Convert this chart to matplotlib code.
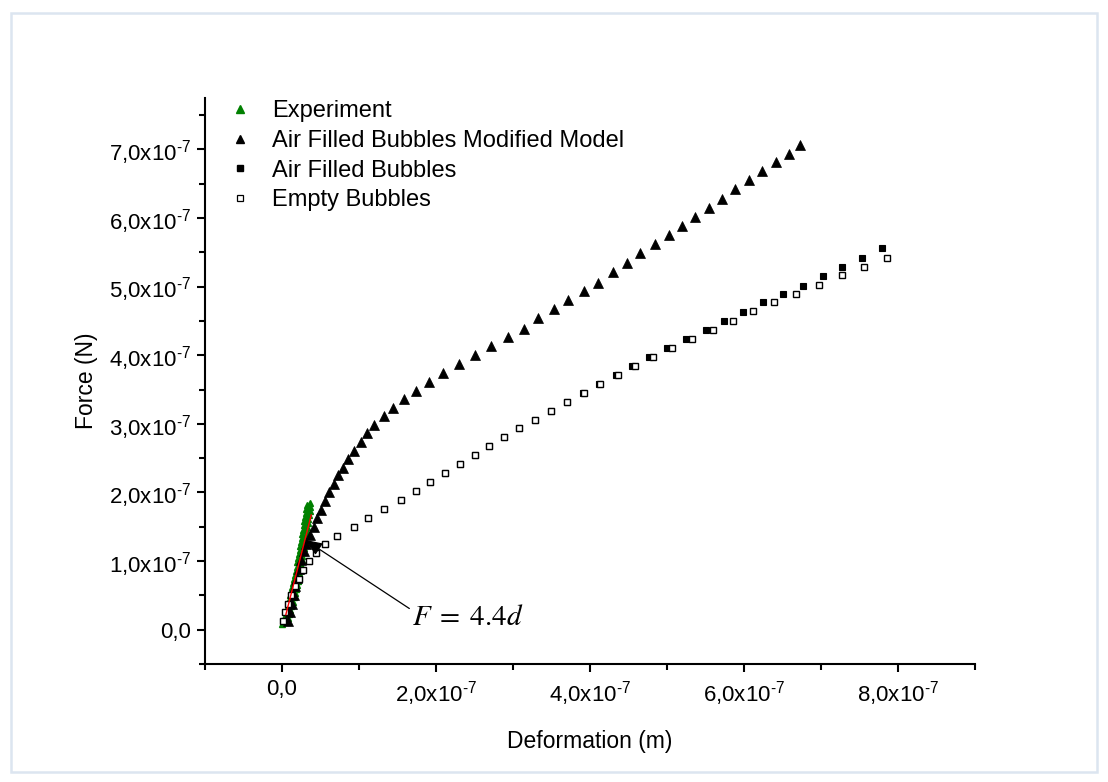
import numpy as np
import matplotlib
matplotlib.use("Agg")
import matplotlib.pyplot as plt
from matplotlib.lines import Line2D
from matplotlib.patches import Rectangle
from matplotlib.ticker import MultipleLocator, FixedLocator, FixedFormatter

plt.rcParams['font.family'] = ['Liberation Sans', 'DejaVu Sans']
plt.rcParams['mathtext.fontset'] = 'custom'
plt.rcParams['mathtext.rm'] = 'Liberation Sans'
plt.rcParams['mathtext.it'] = 'Liberation Sans:italic'
plt.rcParams['mathtext.bf'] = 'Liberation Sans:bold'

SCALE = 1e-7  # all values below are in units of 1e-7

# ---------------- data (x = deformation, y = force), units of 1e-7 ----------
# Experiment (two passes of the measured curve)
exp_d_a = [0.005, 0.020, 0.035, 0.050, 0.065, 0.080, 0.095, 0.110, 0.122, 0.134,
           0.146, 0.157, 0.168, 0.179, 0.189, 0.200, 0.210, 0.220, 0.230, 0.240,
           0.249, 0.258, 0.266, 0.274, 0.282, 0.290, 0.298, 0.306, 0.314, 0.322]
exp_F_a = [0.08, 0.14, 0.20, 0.26, 0.32, 0.38, 0.44, 0.50, 0.56, 0.62,
           0.68, 0.74, 0.80, 0.86, 0.92, 0.98, 1.04, 1.10, 1.16, 1.22,
           1.28, 1.34, 1.40, 1.46, 1.52, 1.58, 1.64, 1.70, 1.76, 1.82]
exp_d_b = [0.063, 0.077, 0.092, 0.107, 0.122, 0.137, 0.152, 0.166, 0.178, 0.190,
           0.202, 0.213, 0.224, 0.234, 0.245, 0.255, 0.265, 0.275, 0.285, 0.295,
           0.304, 0.312, 0.320, 0.328, 0.336, 0.344, 0.352, 0.360, 0.364, 0.360]
exp_F_b = [0.11, 0.17, 0.23, 0.29, 0.35, 0.41, 0.47, 0.53, 0.59, 0.65,
           0.71, 0.77, 0.83, 0.89, 0.95, 1.01, 1.07, 1.13, 1.19, 1.25,
           1.31, 1.37, 1.43, 1.49, 1.55, 1.61, 1.67, 1.73, 1.79, 1.85]

# Air Filled Bubbles Modified Model
mod_d = [0.08, 0.10, 0.13, 0.15, 0.17, 0.20, 0.22, 0.25, 0.28, 0.31,
         0.37, 0.42, 0.46, 0.50, 0.56, 0.61, 0.67, 0.73, 0.79, 0.86,
         0.93, 1.02, 1.10, 1.20, 1.32, 1.44, 1.58, 1.74, 1.91, 2.09,
         2.30, 2.51, 2.72, 2.93, 3.14, 3.33, 3.53, 3.72, 3.92, 4.10,
         4.30, 4.48, 4.65, 4.84, 5.02, 5.19, 5.37, 5.54, 5.71, 5.88,
         6.07, 6.24, 6.41, 6.58, 6.73]
mod_F = [0.13, 0.26, 0.38, 0.51, 0.63, 0.76, 0.89, 1.01, 1.14, 1.25,
         1.38, 1.50, 1.63, 1.75, 1.88, 2.00, 2.13, 2.25, 2.36, 2.49,
         2.61, 2.74, 2.87, 2.99, 3.12, 3.23, 3.36, 3.48, 3.61, 3.74,
         3.87, 4.00, 4.13, 4.26, 4.39, 4.54, 4.67, 4.80, 4.93, 5.06,
         5.21, 5.34, 5.49, 5.62, 5.75, 5.88, 6.01, 6.14, 6.28, 6.42,
         6.55, 6.68, 6.81, 6.94, 7.07]

# Air Filled Bubbles
air_d = [0.01, 0.04, 0.08, 0.12, 0.17, 0.22, 0.27, 0.35, 0.44, 0.56,
         0.72, 0.93, 1.12, 1.33, 1.54, 1.74, 1.92, 2.12, 2.31, 2.50,
         2.69, 2.88, 3.08, 3.28, 3.49, 3.70, 3.91, 4.12, 4.34, 4.55,
         4.77, 5.00, 5.25, 5.50, 5.74, 5.99, 6.25, 6.50, 6.76, 7.02,
         7.27, 7.53, 7.79]
air_F = [0.13, 0.26, 0.38, 0.50, 0.63, 0.74, 0.87, 1.00, 1.12, 1.25,
         1.37, 1.50, 1.63, 1.76, 1.89, 2.02, 2.15, 2.29, 2.42, 2.55,
         2.68, 2.81, 2.94, 3.06, 3.19, 3.32, 3.45, 3.58, 3.71, 3.84,
         3.97, 4.11, 4.24, 4.37, 4.50, 4.63, 4.77, 4.90, 5.01, 5.15,
         5.28, 5.42, 5.56]

# Empty Bubbles
emp_d = [0.01, 0.04, 0.08, 0.12, 0.17, 0.22, 0.27, 0.35, 0.44, 0.56,
         0.72, 0.93, 1.12, 1.33, 1.54, 1.74, 1.92, 2.12, 2.31, 2.50,
         2.69, 2.88, 3.08, 3.28, 3.49, 3.70, 3.92, 4.13, 4.37, 4.59,
         4.82, 5.06, 5.33, 5.60, 5.86, 6.12, 6.39, 6.68, 6.97, 7.27,
         7.56, 7.86]
emp_F = [0.13, 0.26, 0.38, 0.50, 0.63, 0.74, 0.87, 1.00, 1.12, 1.25,
         1.37, 1.50, 1.63, 1.76, 1.89, 2.02, 2.15, 2.29, 2.42, 2.55,
         2.68, 2.81, 2.94, 3.06, 3.19, 3.32, 3.45, 3.58, 3.71, 3.84,
         3.97, 4.11, 4.24, 4.37, 4.50, 4.64, 4.77, 4.89, 5.02, 5.17,
         5.28, 5.42]

# Linear fit F = 4.4 d
fit_slope = 4.4
fit_d = [0.05, 0.38]

series_labels = ['Experiment', 'Air Filled Bubbles Modified Model',
                 'Air Filled Bubbles', 'Empty Bubbles']
annotation_text = r'$F\;=\;4.4d$'
annot_xy = (0.30, 1.31)
annot_text_xy = (1.69, 0.18)

xlabel = 'Deformation (m)'
ylabel = 'Force (N)'
SUP = r'x10$^{\text{-7}}$'
xticks = [0, 2, 4, 6, 8]
xtick_labels = ['0,0', '2,0' + SUP, '4,0' + SUP, '6,0' + SUP, '8,0' + SUP]
yticks = [0, 1, 2, 3, 4, 5, 6, 7]
ytick_labels = ['0,0', '1,0' + SUP, '2,0' + SUP, '3,0' + SUP, '4,0' + SUP,
                '5,0' + SUP, '6,0' + SUP, '7,0' + SUP]

# ---------------- figure ---------------------------------------------------
W, H = 1108, 782
fig = plt.figure(figsize=(W / 100, H / 100), dpi=100)
fig.patch.set_facecolor('white')
fig.patches.append(Rectangle((11 / W, 1 - 772 / H), (1097 - 11) / W, (772 - 13) / H,
                             transform=fig.transFigure, fill=False,
                             edgecolor='#dce5f0', linewidth=1.8, zorder=0))

ax = fig.add_axes([205 / W, 1 - 664 / H, (975 - 205) / W, (664 - 98) / H])

def s(v):
    return np.asarray(v, dtype=float) * SCALE

GREEN = '#008000'
ax.plot(s(exp_d_a), s(exp_F_a), linestyle='none', marker='^', ms=4.5,
        color=GREEN, mec=GREEN, zorder=2)
ax.plot(s(exp_d_b), s(exp_F_b), linestyle='none', marker='^', ms=4.5,
        color=GREEN, mec=GREEN, zorder=2)
ax.plot(s(mod_d), s(mod_F), linestyle='none', marker='^', ms=7.5,
        color='black', mec='black', mew=0.5, zorder=3)
ax.plot(s(air_d), s(air_F), linestyle='none', marker='s', ms=5,
        color='black', mec='black', mew=0.8, zorder=4)
ax.plot(s(emp_d), s(emp_F), linestyle='none', marker='s', ms=5,
        mfc='white', mec='black', mew=1.0, zorder=5)
fd = np.asarray(fit_d, dtype=float)
ax.plot(s(fd), s(fit_slope * fd), color='red', lw=1.0, zorder=6)

ax.annotate(annotation_text, xy=s(annot_xy), xytext=s(annot_text_xy),
            fontsize=21, math_fontfamily='stix', ha='left', va='center',
            arrowprops=dict(arrowstyle='-|>,head_length=0.5,head_width=0.2',
                            color='black', lw=0.9, shrinkA=0, shrinkB=0,
                            relpos=(0.0, 0.75)), zorder=7)

ax.set_xlim(-1 * SCALE, 9 * SCALE)
ax.set_ylim(-0.5 * SCALE, 7.75 * SCALE)

ax.xaxis.set_major_locator(FixedLocator(s(xticks)))
ax.xaxis.set_major_formatter(FixedFormatter(xtick_labels))
ax.xaxis.set_minor_locator(MultipleLocator(1 * SCALE))
ax.yaxis.set_major_locator(FixedLocator(s(yticks)))
ax.yaxis.set_major_formatter(FixedFormatter(ytick_labels))
ax.yaxis.set_minor_locator(MultipleLocator(0.5 * SCALE))

for sp in ['top', 'right']:
    ax.spines[sp].set_visible(False)
for sp in ['left', 'bottom']:
    ax.spines[sp].set_linewidth(1.5)

ax.tick_params(which='major', direction='out', length=6, width=1.5,
               labelsize=16)
ax.tick_params(axis='y', which='major', pad=4)
ax.tick_params(axis='x', which='major', pad=5)
ax.tick_params(which='minor', direction='out', length=4, width=1.5)

ax.set_xlabel(xlabel, fontsize=16.5, labelpad=16)
ax.set_ylabel(ylabel, fontsize=16.5, labelpad=8)

handles = [
    Line2D([], [], linestyle='none', marker='^', ms=6, color=GREEN, mec=GREEN),
    Line2D([], [], linestyle='none', marker='^', ms=6, color='black'),
    Line2D([], [], linestyle='none', marker='s', ms=4.5, color='black'),
    Line2D([], [], linestyle='none', marker='s', ms=4.5, mfc='white', mec='black', mew=0.9),
]
leg = ax.legend(handles, series_labels, loc='upper left',
                bbox_to_anchor=(228 / W, 1 - 100 / H), bbox_transform=fig.transFigure,
                frameon=False, fontsize=17, handlelength=1.0, handletextpad=0.85,
                labelspacing=0.33, borderpad=0, borderaxespad=0)

fig.savefig('out.png', dpi=100)
